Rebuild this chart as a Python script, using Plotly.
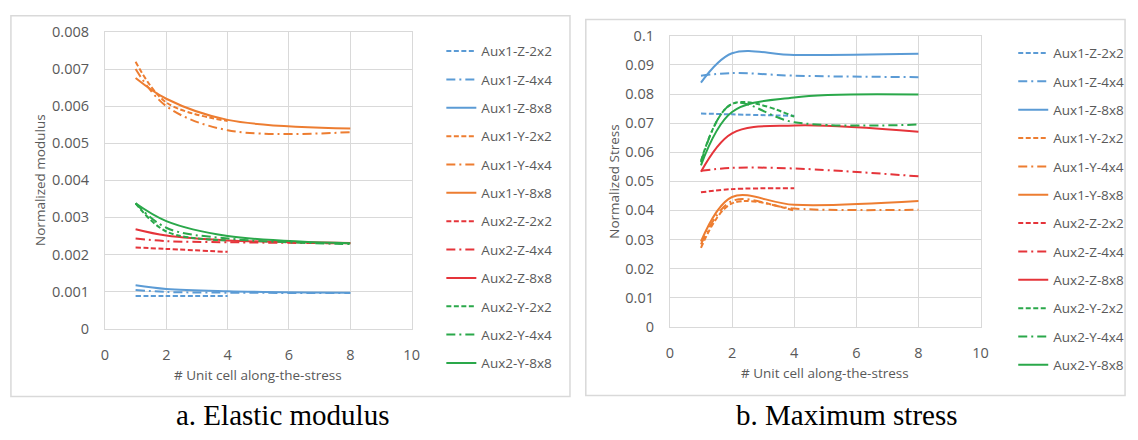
import plotly.graph_objects as go

# ---------------- data ----------------
series_names = ["Aux1-Z-2x2", "Aux1-Z-4x4", "Aux1-Z-8x8",
                "Aux1-Y-2x2", "Aux1-Y-4x4", "Aux1-Y-8x8",
                "Aux2-Z-2x2", "Aux2-Z-4x4", "Aux2-Z-8x8",
                "Aux2-Y-2x2", "Aux2-Y-4x4", "Aux2-Y-8x8"]

x_2x2 = [1, 2, 4]
x_long = [1, 2, 4, 8]

# a. Elastic modulus (normalized)
mod_aux1_z_2x2 = [0.00088, 0.00088, 0.00088]
mod_aux1_z_4x4 = [0.00104, 0.00099, 0.00097, 0.00096]
mod_aux1_z_8x8 = [0.00117, 0.00107, 0.00101, 0.00097]
mod_aux1_y_2x2 = [0.00720, 0.00610, 0.00560]
mod_aux1_y_4x4 = [0.00700, 0.00600, 0.00535, 0.00530]
mod_aux1_y_8x8 = [0.00676, 0.00620, 0.00563, 0.00540]
mod_aux2_z_2x2 = [0.00219, 0.00215, 0.00207]
mod_aux2_z_4x4 = [0.00243, 0.00236, 0.00233, 0.00230]
mod_aux2_z_8x8 = [0.00268, 0.00251, 0.00238, 0.00231]
mod_aux2_y_2x2 = [0.00338, 0.00262, 0.00238]
mod_aux2_y_4x4 = [0.00338, 0.00272, 0.00243, 0.00228]
mod_aux2_y_8x8 = [0.00338, 0.00290, 0.00250, 0.00230]

# b. Maximum stress (normalized)
str_aux1_z_2x2 = [0.0733, 0.0730, 0.0725]
str_aux1_z_4x4 = [0.0863, 0.0872, 0.0863, 0.0858]
str_aux1_z_8x8 = [0.0839, 0.0940, 0.0934, 0.0938]
str_aux1_y_2x2 = [0.0271, 0.0424, 0.0399]
str_aux1_y_4x4 = [0.0283, 0.0432, 0.0406, 0.0402]
str_aux1_y_8x8 = [0.0293, 0.0446, 0.0419, 0.0432]
str_aux2_z_2x2 = [0.0462, 0.0473, 0.0476]
str_aux2_z_4x4 = [0.0536, 0.0546, 0.0544, 0.0517]
str_aux2_z_8x8 = [0.0533, 0.0665, 0.0692, 0.0670]
str_aux2_y_2x2 = [0.0570, 0.0766, 0.0722]
str_aux2_y_4x4 = [0.0565, 0.0766, 0.0703, 0.0695]
str_aux2_y_8x8 = [0.0555, 0.0738, 0.0788, 0.0798]

x_ticks = [0, 2, 4, 6, 8, 10]
mod_ticks = [0, 0.001, 0.002, 0.003, 0.004, 0.005, 0.006, 0.007, 0.008]
mod_tick_labels = ["0", "0.001", "0.002", "0.003", "0.004", "0.005", "0.006", "0.007", "0.008"]
str_ticks = [0, 0.01, 0.02, 0.03, 0.04, 0.05, 0.06, 0.07, 0.08, 0.09, 0.1]
str_tick_labels = ["0", "0.01", "0.02", "0.03", "0.04", "0.05", "0.06", "0.07", "0.08", "0.09", "0.1"]

x_title = "# Unit cell along-the-stress"
mod_title = "Normalized modulus"
str_title = "Normalized Stress"
caption_a = "a. Elastic modulus"
caption_b = "b. Maximum stress"

mod_data = [mod_aux1_z_2x2, mod_aux1_z_4x4, mod_aux1_z_8x8,
            mod_aux1_y_2x2, mod_aux1_y_4x4, mod_aux1_y_8x8,
            mod_aux2_z_2x2, mod_aux2_z_4x4, mod_aux2_z_8x8,
            mod_aux2_y_2x2, mod_aux2_y_4x4, mod_aux2_y_8x8]
str_data = [str_aux1_z_2x2, str_aux1_z_4x4, str_aux1_z_8x8,
            str_aux1_y_2x2, str_aux1_y_4x4, str_aux1_y_8x8,
            str_aux2_z_2x2, str_aux2_z_4x4, str_aux2_z_8x8,
            str_aux2_y_2x2, str_aux2_y_4x4, str_aux2_y_8x8]

# ---------------- styles ----------------
colors = ["#5b9bd5", "#ed7d31", "#e5343a", "#2aa84a"]
dashes = ["5px,2.5px", "9px,4px,2px,4px", "solid"]

W, H = 1138, 440
def px_x(p): return p / W
def px_y(p): return 1 - p / H

TXT = "#595959"
GRID = "#d9d9d9"
FONT = "Open Sans"

fig = go.Figure()

for panel, (data, xa, ya, leg) in enumerate([(mod_data, "x", "y", "legend"),
                                             (str_data, "x2", "y2", "legend2")]):
    for i, (name, vals) in enumerate(zip(series_names, data)):
        xs = x_2x2 if len(vals) == 3 else x_long
        fig.add_trace(go.Scatter(
            x=xs, y=vals, mode="lines", name=name,
            line=dict(color=colors[i // 3], width=2, dash=dashes[i % 3],
                      shape="spline", smoothing=1),
            xaxis=xa, yaxis=ya, legend=leg, legendgroup=f"{panel}-{i}",
            showlegend=True,
        ))

axis_common = dict(showgrid=True, gridcolor=GRID, gridwidth=1, zeroline=False,
                   showline=True, linecolor=GRID, linewidth=1, mirror=True,
                   ticks="", tickfont=dict(family=FONT, size=14.5, color=TXT))

leg_font = dict(family=FONT, size=13.5, color=TXT)

fig.update_layout(
    width=W, height=H,
    margin=dict(l=0, r=0, t=0, b=0),
    paper_bgcolor="white", plot_bgcolor="white",
    font=dict(family=FONT, color=TXT),
    xaxis=dict(domain=[px_x(102), px_x(412)], range=[0, 10], tickvals=x_ticks,
               anchor="y", ticklabelstandoff=13, **axis_common),
    yaxis=dict(domain=[1 - 333 / H, 1 - 23 / H], range=[0, 0.008],
               tickvals=mod_ticks, ticktext=mod_tick_labels, anchor="x",
               ticklabelstandoff=12, **axis_common),
    xaxis2=dict(domain=[px_x(673), px_x(987)], range=[0, 10], tickvals=x_ticks,
                anchor="y2", ticklabelstandoff=13, **axis_common),
    yaxis2=dict(domain=[1 - 331 / H, 1 - 27 / H], range=[0, 0.1],
                tickvals=str_ticks, ticktext=str_tick_labels, anchor="x2",
                ticklabelstandoff=12, **axis_common),
    legend=dict(x=px_x(442), y=px_y(27), xanchor="left", yanchor="top",
                font=leg_font, tracegroupgap=7.8,
                bgcolor="rgba(0,0,0,0)", itemwidth=30),
    legend2=dict(x=px_x(1020), y=px_y(29), xanchor="left", yanchor="top",
                 font=leg_font, tracegroupgap=7.8,
                 bgcolor="rgba(0,0,0,0)", itemwidth=30),
    showlegend=True,
)

# panel borders
fig.add_shape(type="rect", xref="paper", yref="paper",
              x0=px_x(7), x1=px_x(572), y0=px_y(404), y1=px_y(6),
              line=dict(color=GRID, width=1.5), fillcolor="rgba(0,0,0,0)", layer="below")
fig.add_shape(type="rect", xref="paper", yref="paper",
              x0=px_x(588), x1=px_x(1133), y0=px_y(403), y1=px_y(10),
              line=dict(color=GRID, width=1.5), fillcolor="rgba(0,0,0,0)", layer="below")

def label(text, x, y, size, angle=0, family=FONT, color=TXT):
    fig.add_annotation(text=text, xref="paper", yref="paper",
                       x=px_x(x), y=px_y(y), xanchor="center", yanchor="middle",
                       showarrow=False, textangle=angle,
                       font=dict(family=family, size=size, color=color))

# axis titles
label(x_title, 257, 381, 13.5)
label(x_title, 830, 379, 13.5)
label(mod_title, 37, 178, 13.5, angle=-90)
label(str_title, 617, 179, 13.5, angle=-90)

# captions
label(caption_a, 281, 423, 29, family="Liberation Serif", color="black")
label(caption_b, 852, 423, 29, family="Liberation Serif", color="black")

fig.write_html("out.html")
